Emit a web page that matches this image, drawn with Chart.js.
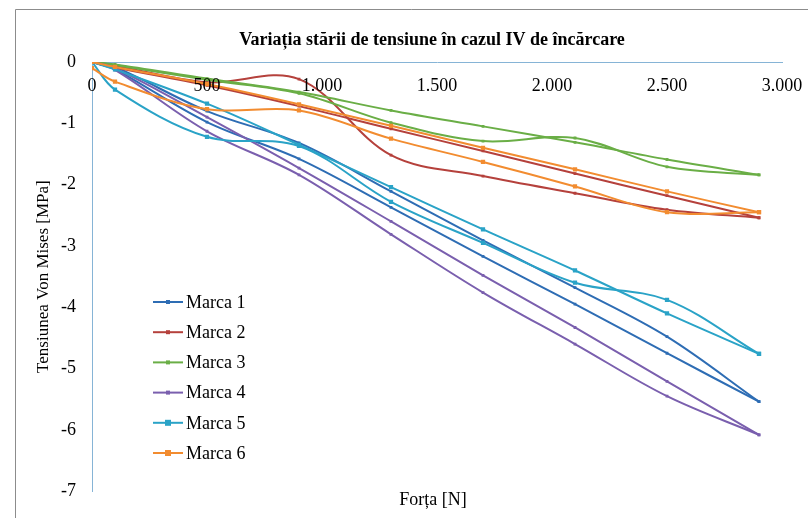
<!DOCTYPE html>
<html>
<head>
<meta charset="utf-8">
<script src="https://cdn.jsdelivr.net/npm/chart.js@4.4.0/dist/chart.umd.min.js"></script>
<style>
  html, body { margin: 0; padding: 0; background: #fff; }
  #wrap { position: relative; width: 808px; height: 518px; }
</style>
</head>
<body>
<div id="wrap"><canvas id="chart" width="808" height="518"></canvas></div>
<script>
// Forta [N] la care s-au citit tensiunile
const forta = [0, 100, 500, 900, 1300, 1700, 2100, 2500, 2900];

// doua citiri pentru fiecare marca (a / b), in MPa
const marca1a = [0, -0.08, -0.80, -1.32, -2.11, -2.91, -3.68, -4.48, -5.54];
const marca1b = [0, -0.12, -0.98, -1.58, -2.37, -3.17, -3.95, -4.75, -5.54];
const marca2a = [0, -0.06, -0.33, -0.28, -1.52, -1.86, -2.14, -2.41, -2.54];
const marca2b = [0, -0.09, -0.38, -0.72, -1.09, -1.45, -1.82, -2.18, -2.54];
const marca3a = [0, -0.04, -0.27, -0.49, -0.79, -1.05, -1.31, -1.59, -1.84];
const marca3b = [0, -0.05, -0.29, -0.51, -0.99, -1.29, -1.24, -1.71, -1.84];
const marca4a = [0, -0.10, -0.90, -1.73, -2.60, -3.48, -4.33, -5.21, -6.08];
const marca4b = [0, -0.13, -1.13, -1.84, -2.81, -3.76, -4.60, -5.45, -6.08];
const marca5a = [0, -0.12, -0.68, -1.35, -2.04, -2.73, -3.40, -4.10, -4.76];
const marca5b = [0, -0.45, -1.22, -1.37, -2.28, -2.95, -3.60, -3.88, -4.76];
const marca6a = [0, -0.08, -0.36, -0.69, -1.04, -1.40, -1.75, -2.11, -2.45];
const marca6b = [-0.10, -0.32, -0.77, -0.79, -1.25, -1.63, -2.03, -2.45, -2.45];

const marcaNames = ['Marca 1', 'Marca 2', 'Marca 3', 'Marca 4', 'Marca 5', 'Marca 6'];
const marcaColors = ['#2e6db4', '#b5413c', '#6aae46', '#7a5fae', '#2aa3c7', '#f28c30'];
const marcaSeries = [
  [marca1a, marca1b], [marca2a, marca2b], [marca3a, marca3b],
  [marca4a, marca4b], [marca5a, marca5b], [marca6a, marca6b]
];

const xTickValues = [0, 500, 1000, 1500, 2000, 2500, 3000];
const xTickLabels = ['0', '500', '1.000', '1.500', '2.000', '2.500', '3.000'];

const FONT = "'Liberation Serif', 'Times New Roman', serif";
const axisColor = '#86b4d6';

// marcile 5 si 6 au patratele mai mari
const pointSize = (k) => (k >= 4 ? 3 : 2);

const datasets = [];
marcaSeries.forEach((pair, k) => {
  pair.forEach((values) => {
    datasets.push({
      label: marcaNames[k],
      data: forta.map((x, i) => ({ x: x, y: values[i] })),
      borderColor: marcaColors[k],
      backgroundColor: marcaColors[k],
      borderWidth: 2,
      pointStyle: 'rect',
      pointRadius: pointSize(k),
      pointBorderWidth: 0,
      tension: 0.35,
      order: 6 - k,
    });
  });
});

// titlu, etichete pe axa X, legenda si chenar
const decor = {
  id: 'decor',
  beforeDraw(chart) {
    const ctx = chart.ctx;
    ctx.save();
    ctx.fillStyle = '#fff';
    ctx.fillRect(0, 0, chart.width, chart.height);
    ctx.restore();
  },
  afterDraw(chart) {
    const ctx = chart.ctx;
    const x = chart.scales.x;
    const area = chart.chartArea;
    ctx.save();

    // chenarul graficului
    ctx.strokeStyle = '#8c8c8c';
    ctx.lineWidth = 1;
    ctx.beginPath();
    ctx.moveTo(15.5, chart.height);
    ctx.lineTo(15.5, 9.5);
    ctx.lineTo(chart.width, 9.5);
    ctx.stroke();

    ctx.fillStyle = '#000';
    ctx.textBaseline = 'middle';
    ctx.textAlign = 'center';

    ctx.font = 'bold 18px ' + FONT;
    ctx.fillText('Variația stării de tensiune în cazul IV de încărcare', 432, 40);

    ctx.font = '18px ' + FONT;
    xTickValues.forEach((v, i) => {
      ctx.fillText(xTickLabels[i], x.getPixelForValue(v), area.top + 24);
    });

    ctx.fillText('Forța [N]', 433, 500);

    // legenda
    ctx.textAlign = 'left';
    marcaNames.forEach((name, k) => {
      const y = 302 + k * 30.2;
      ctx.strokeStyle = marcaColors[k];
      ctx.lineWidth = 2;
      ctx.beginPath();
      ctx.moveTo(153, y);
      ctx.lineTo(183, y);
      ctx.stroke();
      const s = pointSize(k);
      ctx.fillStyle = marcaColors[k];
      ctx.fillRect(168 - s, y - s, 2 * s, 2 * s);
      ctx.fillStyle = '#000';
      ctx.fillText(name, 186, y + 1);
    });
    ctx.restore();
  }
};

new Chart(document.getElementById('chart').getContext('2d'), {
  type: 'line',
  data: { datasets: datasets },
  options: {
    responsive: false,
    animation: false,
    layout: { padding: { top: 62, left: 29, right: 26, bottom: 24 } },
    plugins: {
      legend: { display: false },
      title: { display: false },
      tooltip: { enabled: false },
    },
    scales: {
      x: {
        type: 'linear',
        position: 'top',
        min: 0,
        max: 3000,
        ticks: { display: false, stepSize: 500 },
        grid: { display: false, drawTicks: false },
        border: { display: true, color: axisColor, width: 1 },
      },
      y: {
        min: -7,
        max: 0,
        ticks: { stepSize: 1, padding: 16, color: '#000', font: { family: FONT, size: 18 } },
        grid: { display: false, drawTicks: false },
        border: { display: true, color: axisColor, width: 1 },
        title: {
          display: true,
          text: 'Tensiunea Von Mises [MPa]',
          color: '#000',
          font: { family: FONT, size: 17 },
          padding: { top: 4, bottom: 0 },
        },
        afterFit(scale) { scale.width = 63; },
      },
    },
  },
  plugins: [decor],
});
</script>
</body>
</html>
